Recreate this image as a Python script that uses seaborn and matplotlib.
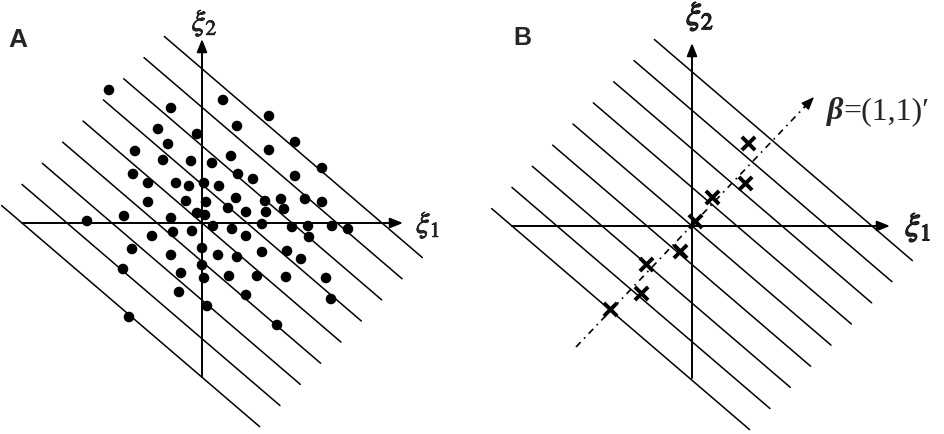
import numpy as np
import pandas as pd
import matplotlib
matplotlib.use("Agg")
import matplotlib.pyplot as plt
import matplotlib.patheffects as pe
import seaborn as sns

# panel A: scattered observations (units of the drawing, origin at axis crossing)
dots_x = [-9.3, 2.1, -3.1, 6.7, 3.5, -4.4, -0.5, 9.3, -3.4, -6.7, 6.7, 2.9, -3.9, -1.1,
          1.0, 12.0, -6.9, 3.6, 9.3, 5.1, -5.4, -2.6, -1.3, 0.2, 1.7, -5.4, -1.6, 0.4,
          3.4, 6.3, 7.9, 10.3, 12.0, 2.6, 4.4, 6.4, 8.2, -0.5, 0.3, -7.8, -3.1, -11.5,
          6.0, 1.1, 3.0, 9.0, 10.6, 13.0, 14.6, -1.0, -2.9, -5.0, 4.4, 10.7, -7.0, 0.0,
          -3.1, 1.6, 3.5, 6.0, 8.5, 9.9, 0.0, -7.9, -2.1, 2.7, 5.5, 8.4, 12.4, 0.2,
          -2.3, 4.4, 12.9, 0.5, -7.3, 7.5]
dots_y = [13.3, 12.3, 11.5, 10.7, 9.7, 9.4, 8.9, 8.1, 7.9, 7.2, 7.3, 6.7, 6.3, 6.2,
          6.0, 5.5, 4.9, 4.9, 4.7, 4.4, 4.0, 4.0, 3.7, 4.0, 3.7, 2.1, 2.2, 2.1,
          2.5, 2.2, 2.4, 2.4, 2.1, 1.5, 1.1, 1.1, 1.4, 1.0, 0.8, 0.7, 0.5, 0.2,
          -0.1, -0.3, -0.6, -0.4, -0.3, -0.3, -0.6, -0.8, -0.9, -1.3, -1.3, -1.4, -2.6, -2.5,
          -3.2, -3.2, -3.4, -2.9, -2.8, -3.6, -4.2, -4.6, -5.0, -5.3, -5.3, -5.4, -5.5, -5.5,
          -6.9, -7.2, -7.6, -8.3, -9.4, -10.2]

# panel B: observations lying along beta
cross_x = [5.6, 5.3, 2.0, 0.3, -1.2, -4.6, -5.1, -8.2]
cross_y = [8.3, 4.3, 2.9, 0.5, -2.5, -3.8, -6.7, -8.3]

# level lines xi1*b1 + xi2*b2 = const, crossing the xi1 axis at these values
line_offsets = [-18, -13.5, -9, -4.5, 0, 4.5, 9, 13.5, 18]
line_slope = -0.857

beta_x = [-11.6, 12.2]
beta_y = [-12.1, 12.9]

W, H = 945, 434
fig = plt.figure(figsize=(W / 100, H / 100), dpi=100)
sns.set_style("white")
plt.rcParams["mathtext.fontset"] = "stix"

axA = fig.add_axes([0, 0, 470 / W, 1])
axB = fig.add_axes([470 / W, 0, 475 / W, 1])
axA.set_xlim(-20.2, 26.8)
axA.set_ylim(-21.1, 22.3)
axB.set_xlim(-22.2, 25.3)
axB.set_ylim(-20.8, 22.6)


def level_lines():
    rows = []
    for c in line_offsets:
        x0 = 0.452 * c - 11.9
        for x in (x0, x0 + 25.8):
            rows.append({"x": x, "y": line_slope * (x - c), "line": c})
    return pd.DataFrame(rows)


def arrow(ax, start, end, lw=1.4):
    ax.annotate("", xy=end, xytext=start,
                arrowprops=dict(arrowstyle="-|>,head_length=0.55,head_width=0.22",
                                color="black", lw=lw, mutation_scale=14,
                                shrinkA=0, shrinkB=0))


lines_df = level_lines()
for ax in (axA, axB):
    ax.axis("off")
    sns.lineplot(data=lines_df, x="x", y="y", units="line", estimator=None,
                 sort=False, color="black", lw=1.1, ax=ax)

# axes with arrows
arrow(axA, (-18, 0), (20.1, 0))
arrow(axA, (0, -15.4), (0, 18.4))
arrow(axB, (-18, 0), (19.8, 0))
arrow(axB, (0, -15.2), (0, 18.3))

sns.scatterplot(x=dots_x, y=dots_y, s=58, color="black", edgecolor="none",
                legend=False, ax=axA)

# beta direction, dash-dot with arrow head
axB.plot(beta_x, beta_y, color="black", lw=1.2, dashes=[4, 3, 1, 3])
axB.annotate("", xy=(beta_x[1], beta_y[1]),
             xytext=(beta_x[1] - 1.0, beta_y[1] - 1.06),
             arrowprops=dict(arrowstyle="-|>,head_length=0.55,head_width=0.22",
                             color="black", lw=1.0, mutation_scale=14,
                             shrinkA=0, shrinkB=0))
sns.scatterplot(x=cross_x, y=cross_y, marker="x", s=90, color="black",
                linewidth=2.8, legend=False, ax=axB)

# axis names (slightly heavier than plain stix, like the original)
thinA = [pe.withStroke(linewidth=0.5, foreground="black")]
thickB = [pe.withStroke(linewidth=0.9, foreground="black")]
axA.text(0.25, 20.0, r"$\xi_2$", ha="center", va="center", fontsize=22,
         path_effects=thinA)
axA.text(22.6, -0.2, r"$\xi_1$", ha="center", va="center", fontsize=22,
         path_effects=thinA)
axB.text(0.8, 21.0, r"$\xi_2$", ha="center", va="center", fontsize=24,
         path_effects=thickB)
axB.text(22.6, -0.1, r"$\xi_1$", ha="center", va="center", fontsize=24,
         path_effects=thickB)

tb = axB.text(13.5, 10.7, "β", ha="left", va="baseline", fontsize=23,
              family=["Liberation Serif", "DejaVu Serif"], style="italic",
              weight="bold")
axB.annotate("=(1,1)′", xy=(1, 0), xycoords=tb, ha="left", va="bottom",
             fontsize=23, family=["Liberation Serif", "DejaVu Serif"])

fig.text(8 / W, 1 - 47 / H, "A", ha="left", va="baseline", fontsize=19,
         weight="bold", family=["Liberation Sans", "DejaVu Sans"])
fig.text(513 / W, 1 - 45 / H, "B", ha="left", va="baseline", fontsize=18,
         weight="bold", family=["Liberation Sans", "DejaVu Sans"])

fig.savefig("out.png", dpi=100)
